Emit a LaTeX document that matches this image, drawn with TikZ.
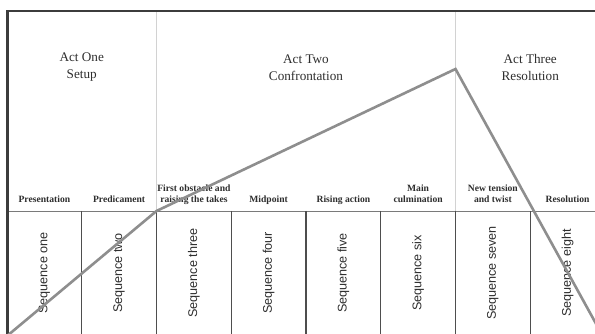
\documentclass[tikz,border=0pt]{standalone}
\usepackage{fontspec}
\setmainfont{Liberation Serif}
\newfontfamily\seqfont{Liberation Sans}
\usepackage{xcolor}
\usepackage{tikz}
\usetikzlibrary{positioning, calc}
\definecolor{ink}{HTML}{2E2E2E}
\definecolor{frame}{HTML}{3C3C3C}
\definecolor{rule}{HTML}{4E4E4E}
\definecolor{hline}{HTML}{7A7A7A}
\definecolor{divide}{HTML}{D2D2D2}
\definecolor{arc}{HTML}{8E8E8E}
\tikzset{
  act/.style    = {align=center, inner sep=0pt, text=ink,
                   font=\fontsize{13.2}{17}\selectfont},
  beat/.style   = {align=center, inner sep=0pt, anchor=south, text depth=2.5pt,
                   text=ink, font=\fontsize{9.6}{10.4}\selectfont\bfseries},
  seq/.style    = {rotate=90, inner sep=0pt, text=ink,
                   font=\seqfont\fontsize{12.6}{14}\selectfont},
  border/.style = {draw=frame, line width=2pt},
  col/.style    = {draw=rule, line width=1.3pt},
  actline/.style= {draw=divide, line width=0.8pt},
  story/.style  = {draw=arc, line width=2.6pt, line join=miter},
}

\begin{document}
\begin{tikzpicture}[x=1pt, y=-1pt]

  \clip (0,0) rectangle (595,334);
  \fill[white] (0,0) rectangle (595,334);

  \draw[actline] (156.5,11.5) -- (156.5,211);
  \draw[actline] (455.5,11.5) -- (455.5,211);
  \draw[draw=hline, line width=0.9pt] (7,211) -- (605,211);

  \draw[col] (81.75,211) -- (81.75,340);
  \draw[col] (156.5,211) -- (156.5,340);
  \draw[col] (231.25,211) -- (231.25,340);
  \draw[col] (306,211) -- (306,340);
  \draw[col] (380.75,211) -- (380.75,340);
  \draw[col] (455.5,211) -- (455.5,340);
  \draw[col] (530.25,211) -- (530.25,340);

  \draw[border] (7,11.5) -- (605,11.5);
  \draw[border, line width=3pt] (7,10.5) -- (7,340);

  \node[act] (act1) at (81.75,67.5) {Act One\\Setup};
  \node[act] (act2) at (306,67.5) {Act Two\\Confrontation};
  \node[act] (act3) at (530.25,67.5) {Act Three\\Resolution};

  \node[beat] (beat1) at (44.4,205) {Presentation};
  \node[beat] (beat2) at (119.1,205) {Predicament};
  \node[beat] (beat3) at (193.9,205) {First obstacle and\\raising the takes};
  \node[beat] (beat4) at (268.6,205) {Midpoint};
  \node[beat] (beat5) at (343.4,205) {Rising action};
  \node[beat] (beat6) at (418.1,205) {Main\\culmination};
  \node[beat] (beat7) at (492.9,205) {New tension\\and twist};
  \node[beat] (beat8) at (567.6,205) {Resolution};

  \node[seq] (seq1) at (44.4,273) {Sequence one};
  \node[seq] (seq2) at (119.1,273) {Sequence two};
  \node[seq] (seq3) at (193.9,273) {Sequence three};
  \node[seq] (seq4) at (268.6,273) {Sequence four};
  \node[seq] (seq5) at (343.4,273) {Sequence five};
  \node[seq] (seq6) at (418.1,273) {Sequence six};
  \node[seq] (seq7) at (492.9,273) {Sequence seven};
  \node[seq] (seq8) at (567.6,273) {Sequence eight};

  \coordinate (start) at (7,336);
  \coordinate (turn) at (156.5,211);
  \coordinate (peak) at (455.5,69);
  \coordinate (finish) at (605,340);
  \draw[story] (start) -- (turn) -- (peak) -- (finish);

\end{tikzpicture}
\end{document}
